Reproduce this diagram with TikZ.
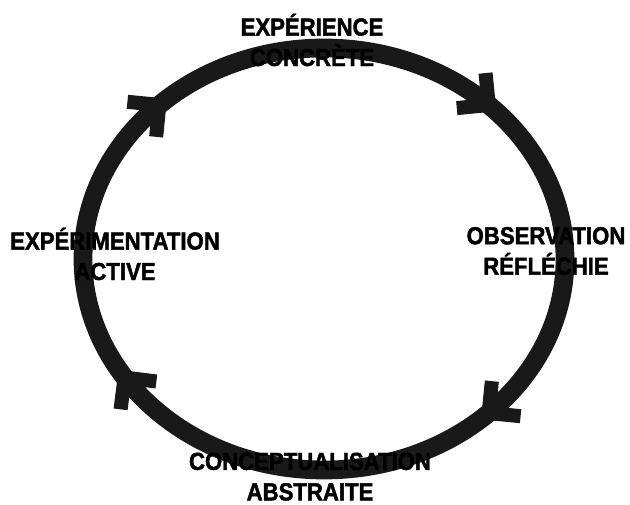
\documentclass[tikz,border=0pt]{standalone}
\usepackage{fontspec}
\newfontfamily\heavyfont[FakeBold=1.8, FakeStretch=0.9]{Liberation Sans Bold}
\usetikzlibrary{decorations.markings}
\definecolor{ringblack}{gray}{0.1}

\begin{document}
\begin{tikzpicture}[
    stage/.style={align=center, font=\fontsize{21}{26}\heavyfont,
                  text=black, inner sep=0pt},
    ring/.style={draw=ringblack, line width=16pt, line cap=butt,
                 postaction={decorate},
                 decoration={markings, mark=at position #1 with
                   {\draw[ringblack, line width=12pt, line cap=butt, line join=miter]
                      (-0.68,0.68) -- (0,0) -- (-0.68,-0.68);}}},
    ring/.default=0.5
]
\useasboundingbox (0,0) rectangle (18.9,15.15);

% points where the cycle meets each stage
\coordinate (pn) at (9.72,13.71);
\coordinate (pe) at (16.95,7.38);
\coordinate (ps) at (9.72,1.05);
\coordinate (pw) at (2.49,7.38);

% the cycle, clockwise
\foreach \from/\a/\b/\p in {pn/90/0/0.5, pe/0/-90/0.5, ps/-90/-180/0.64, pw/180/90/0.5}
  \draw[ring=\p] (\from) arc[start angle=\a, end angle=\b, x radius=7.23, y radius=6.33];

\node[stage] (ce) at (9.36,13.95) {EXPÉRIENCE\\CONCRÈTE};
\node[stage] (or) at (16.38,7.62) {OBSERVATION\\RÉFLÉCHIE};
\node[stage] (ca) at (9.30,0.85)  {CONCEPTUALISATION\\ABSTRAITE};
\node[stage] (ea) at (3.45,7.53)  {EXPÉRIMENTATION\\ACTIVE};
\end{tikzpicture}
\end{document}
